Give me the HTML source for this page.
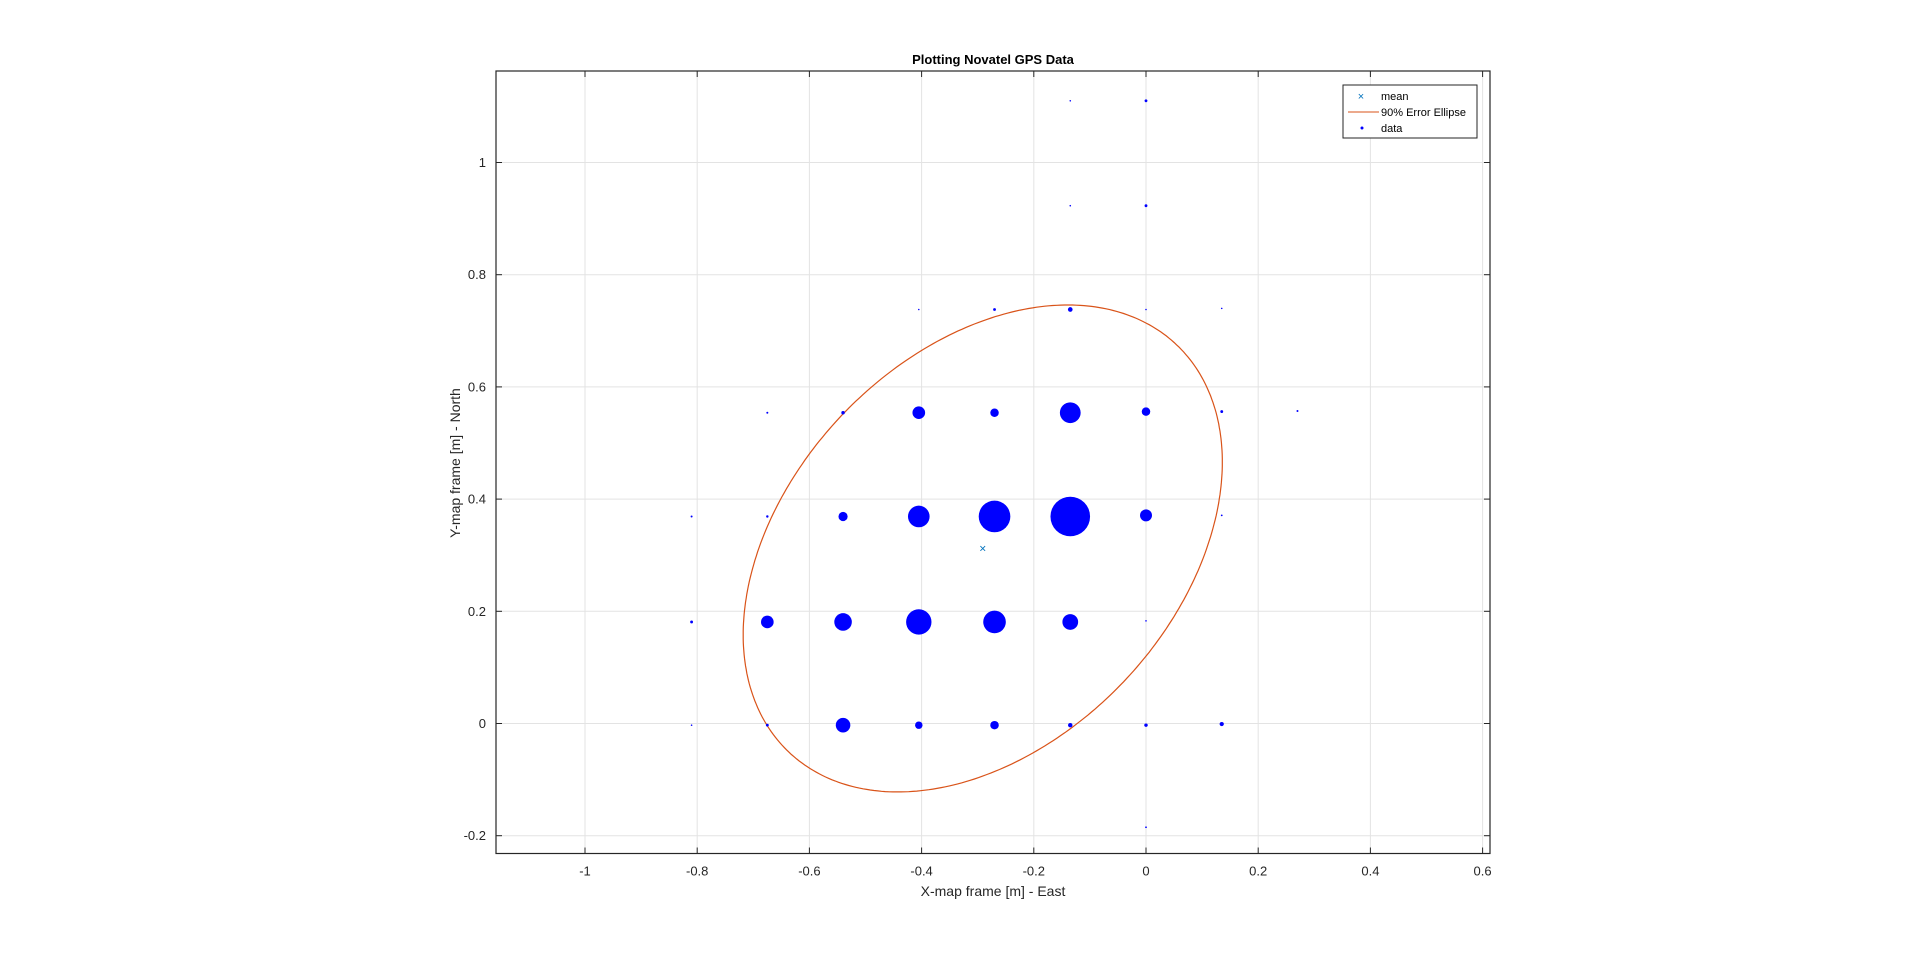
<!DOCTYPE html>
<html><head><meta charset="utf-8"><style>
html,body{margin:0;padding:0;background:#fff;}
svg{display:block;font-family:"Liberation Sans",Arial,sans-serif;}
</style></head><body>
<svg id="chart" width="1920" height="963" viewBox="0 0 1920 963" xmlns="http://www.w3.org/2000/svg">
<rect width="1920" height="963" fill="#fff"/>
<g id="grid"></g>
<g id="ellipse-layer"></g>
<g id="points"></g>
<g id="axes"></g>
<text x="993" y="64" text-anchor="middle" font-size="13" font-weight="bold" fill="#000">Plotting Novatel GPS Data</text>
<text x="993" y="896" text-anchor="middle" font-size="14" fill="#262626">X-map frame [m] - East</text>
<text transform="translate(460,463) rotate(-90)" text-anchor="middle" font-size="14" fill="#262626">Y-map frame [m] - North</text>
<g>
<rect x="1343" y="85" width="134" height="53" fill="#fff" stroke="#262626" stroke-width="1"/>
<g>
<text x="1361" y="100" text-anchor="middle" font-size="11" fill="#0072BD">×</text>
<text x="1381" y="100" font-size="11" fill="#000">mean</text></g>
<g>
<line x1="1348" y1="112" x2="1379" y2="112" stroke="#D95319" stroke-width="1"/>
<text x="1381" y="116" font-size="11" fill="#000">90% Error Ellipse</text></g>
<g>
<circle cx="1362" cy="128" r="1.5" fill="#00f"/>
<text x="1381" y="132" font-size="11" fill="#000">data</text></g>
</g>
</svg>
<script>
// data
const xTicks = [-1, -0.8, -0.6, -0.4, -0.2, 0, 0.2, 0.4, 0.6];
const yTicks = [-0.2, 0, 0.2, 0.4, 0.6, 0.8, 1];
const xTickLabels = ["-1","-0.8","-0.6","-0.4","-0.2","0","0.2","0.4","0.6"];
const yTickLabels = ["-0.2","0","0.2","0.4","0.6","0.8","1"];
const pointX = [
 -0.81,-0.675,-0.54,-0.405,-0.27,-0.135,0,0.135,
 -0.81,-0.675,-0.54,-0.405,-0.27,-0.135,0,
 -0.81,-0.675,-0.54,-0.405,-0.27,-0.135,0,0.135,
 -0.675,-0.54,-0.405,-0.27,-0.135,0,0.135,0.27,
 -0.405,-0.27,-0.135,0,0.135,
 -0.135,0,
 -0.135,0,
 0];
const pointY = [
 -0.003,-0.003,-0.003,-0.003,-0.003,-0.003,-0.003,-0.001,
 0.181,0.181,0.181,0.181,0.181,0.181,0.183,
 0.369,0.369,0.369,0.369,0.369,0.369,0.371,0.371,
 0.554,0.554,0.554,0.554,0.554,0.556,0.556,0.557,
 0.738,0.738,0.738,0.738,0.740,
 0.923,0.923,
 1.11,1.11,
 -0.185];
const pointCount = [
 0.6,2,53,14,18,5,3,4.5,
 2,40,77,161,128,62,0.6,
 1,1.5,21,117,250,392,36,0.8,
 1,3,40,18,108,18,2,1,
 0.6,2,5.5,0.6,0.6,
 0.6,2,
 0.6,2,
 0.8];
const meanX = [-0.291];
const meanY = [0.312];
const ellipseCenter = [-0.291, 0.312];
const ellipseHalfExtent = [0.427, 0.434];
const ellipseCorr = [0.355];

const X0 = 1146, XS = 561, Y0 = 723.5, YS = 561;
const L = 496, R = 1490, T = 71, B = 853.5;
function sx(v){ return X0 + v*XS; }
function sy(v){ return Y0 - v*YS; }
const NS = "http://www.w3.org/2000/svg";
function mk(tag, attrs, parent){ const e=document.createElementNS(NS,tag); for(const k in attrs) e.setAttribute(k, attrs[k]); parent.appendChild(e); return e; }

const grid = document.getElementById('grid');
const axes = document.getElementById('axes');
xTicks.forEach((t,i)=>{
  const x = sx(t);
  const g = mk('line',{x1:x,y1:T,x2:x,y2:B,stroke:'#e3e3e3','stroke-width':1},grid);
  
  
  mk('line',{x1:x,y1:B,x2:x,y2:B-6,stroke:'#262626'},axes);
  mk('line',{x1:x,y1:T,x2:x,y2:T+6,stroke:'#262626'},axes);
  const lb = mk('text',{x:x,y:B+22,'text-anchor':'middle','font-size':13,fill:'#262626'},axes);
  lb.textContent = xTickLabels[i];
  
  
});
yTicks.forEach((t,i)=>{
  const y = sy(t);
  const g = mk('line',{x1:L,y1:y,x2:R,y2:y,stroke:'#e3e3e3','stroke-width':1},grid);
  
  
  mk('line',{x1:L,y1:y,x2:L+6,y2:y,stroke:'#262626'},axes);
  mk('line',{x1:R,y1:y,x2:R-6,y2:y,stroke:'#262626'},axes);
  const lb = mk('text',{x:L-10,y:y+4.5,'text-anchor':'end','font-size':13,fill:'#262626'},axes);
  lb.textContent = yTickLabels[i];
  
  
});
const frame = mk('rect',{x:L,y:T,width:R-L,height:B-T,fill:'none',stroke:'#262626','stroke-width':1.2},axes);



// ellipse
const el = document.getElementById('ellipse-layer');
const phi = Math.acos(ellipseCorr[0]);
let d = '';
for(let k=0;k<=360;k++){
  const t = k*Math.PI/180;
  const x = ellipseCenter[0] + ellipseHalfExtent[0]*Math.cos(t);
  const y = ellipseCenter[1] + ellipseHalfExtent[1]*Math.cos(t - phi);
  d += (k?'L':'M') + sx(x).toFixed(1) + ',' + sy(y).toFixed(1);
}
const ep = mk('path',{d:d,fill:'none',stroke:'#D95319','stroke-width':1.2},el);



// points
const pts = document.getElementById('points');
pointX.forEach((px,i)=>{
  const c = mk('circle',{cx:sx(px),cy:sy(pointY[i]),r:Math.sqrt(pointCount[i]),fill:'#0000ff'},pts);
  
  
});
// mean
meanX.forEach((mx,i)=>{
  const m = mk('text',{x:sx(mx),y:sy(meanY[i])+4,'text-anchor':'middle','font-size':12,fill:'#0072BD'},pts);
  m.textContent = '×';
  
  
});
</script>
</body></html>
